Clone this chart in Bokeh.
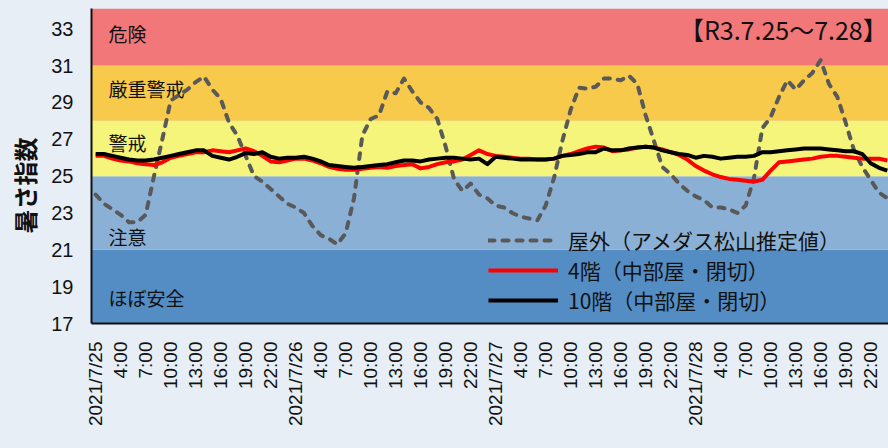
import math
from bokeh.plotting import figure
from bokeh.models import (Range1d, FixedTicker, BoxAnnotation, Legend, LegendItem, Title)
from bokeh.core.properties import value
from bokeh.embed import file_html
from bokeh.resources import INLINE

# ---------------- data ----------------
days = ["2021/7/25", "2021/7/26", "2021/7/27", "2021/7/28"]
hour_labels = ["4:00", "7:00", "10:00", "13:00", "16:00", "19:00", "22:00"]
tick_labels = []
for d in days:
    tick_labels.append(d)
    tick_labels.extend(hour_labels)

outdoor = [
    24.0, 23.5, 23.2, 22.9, 22.5, 22.5, 22.9, 25.0, 27.0, 29.1, 29.4, 29.7,
    30.1, 30.4, 29.7, 29.2, 27.9, 27.2, 26.1, 25.0, 24.7, 24.3, 23.9, 23.5,
    23.3, 23.0, 22.3, 21.8, 21.6, 21.3, 21.9, 23.8, 27.2, 28.1, 28.3, 29.6,
    29.5, 30.3, 29.6, 29.0, 28.7, 28.1, 26.6, 24.85, 24.2, 24.6, 24.0, 23.8,
    23.4, 23.3, 23.0, 22.8, 22.7, 22.6, 23.4, 24.9, 26.9, 28.6, 29.8, 29.75,
    29.85, 30.3, 30.3, 30.2, 30.45, 30.0, 28.3, 26.9, 25.5, 25.1, 24.6, 24.2,
    23.9, 23.7, 23.3, 23.3, 23.2, 23.0, 23.4, 24.9, 27.6, 28.2, 29.3, 30.2,
    29.7, 30.2, 30.6, 31.3, 30.0, 29.3, 27.9, 26.4, 25.5, 24.8, 24.1, 23.8,
]

floor4 = [
    26.1, 26.1, 25.95, 25.85, 25.8, 25.7, 25.65, 25.6, 25.75, 26.0, 26.1, 26.2,
    26.3, 26.3, 26.4, 26.35, 26.3, 26.4, 26.5, 26.35, 26.1, 25.8, 25.75, 25.85,
    25.95, 25.95, 25.85, 25.7, 25.5, 25.4, 25.35, 25.35, 25.4, 25.45, 25.5, 25.45,
    25.55, 25.6, 25.65, 25.42, 25.5, 25.65, 25.75, 25.8, 25.9, 26.15, 26.4, 26.2,
    26.1, 26.05, 26.0, 25.95, 25.95, 25.9, 25.9, 25.95, 26.1, 26.2, 26.35, 26.5,
    26.6, 26.55, 26.35, 26.4, 26.45, 26.55, 26.6, 26.55, 26.45, 26.3, 26.15, 25.9,
    25.55, 25.3, 25.1, 24.95, 24.85, 24.8, 24.75, 24.7, 24.8, 25.3, 25.75, 25.8,
    25.85, 25.9, 25.95, 26.05, 26.1, 26.1, 26.05, 26.0, 25.95, 25.95, 25.95, 25.85,
]

floor10 = [
    26.2, 26.2, 26.1, 26.0, 25.9, 25.85, 25.85, 25.9, 26.0, 26.1, 26.2, 26.3,
    26.4, 26.4, 26.1, 26.0, 25.9, 26.05, 26.25, 26.2, 26.3, 26.05, 25.95, 26.0,
    26.0, 26.05, 25.95, 25.8, 25.6, 25.55, 25.5, 25.45, 25.5, 25.55, 25.6, 25.65,
    25.75, 25.85, 25.85, 25.8, 25.9, 25.95, 26.0, 26.0, 25.95, 25.9, 25.95, 25.65,
    26.05, 26.0, 25.95, 25.9, 25.9, 25.9, 25.9, 25.95, 26.1, 26.15, 26.2, 26.3,
    26.3, 26.5, 26.4, 26.4, 26.5, 26.55, 26.6, 26.55, 26.4, 26.3, 26.2, 26.15,
    26.0, 26.1, 26.05, 25.95, 26.0, 26.05, 26.05, 26.1, 26.3, 26.3, 26.35, 26.4,
    26.45, 26.5, 26.5, 26.5, 26.45, 26.4, 26.35, 26.35, 26.2, 25.7, 25.45, 25.3,
]

band_names = ["ほぼ安全", "注意", "警戒", "厳重警戒", "危険"]
band_bottoms = [17, 21, 25, 28, 31]
band_tops = [21, 25, 28, 31, 34.1]
band_colors = ["#548DC3", "#8BB0D6", "#F4F57A", "#F7CA4B", "#F27779"]
band_label_y = [18.4, 21.75, 26.8, 29.75, 32.75]

y_ticks = [17, 19, 21, 23, 25, 27, 29, 31, 33]
title_text = "【R3.7.25～7.28】"
y_title = "暑さ指数"
series_names = ["屋外（アメダス松山推定値）", "4階（中部屋・閉切）", "10階（中部屋・閉切）"]

# ---------------- figure ----------------
BG = "#E7EEF6"
JP = "Noto Sans CJK JP"
x = list(range(len(outdoor)))

p = figure(width=888, height=448, output_backend="svg", toolbar_location=None,
           x_range=Range1d(-0.5, 95.14), y_range=Range1d(17, 34.1))
p.min_border_left = 91
p.min_border_right = 0
p.min_border_top = 8
p.min_border_bottom = 125
p.background_fill_color = BG
p.border_fill_color = BG
p.outline_line_color = None
p.grid.visible = False

for b, t, c in zip(band_bottoms, band_tops, band_colors):
    p.add_layout(BoxAnnotation(bottom=b, top=t, fill_color=c, fill_alpha=1.0,
                               line_color=None, level="underlay"))

p.text(x=[1.55] * len(band_names), y=band_label_y, text=band_names,
       text_font=value(JP), text_font_size="19px", text_color="#111111",
       text_align="left", text_baseline="middle")

p.text(x=[95.05], y=[33.0], text=[title_text], text_font=value(JP),
       text_font_size="25px", text_color="#111111", text_align="right",
       text_baseline="middle")

r_out = p.line(x, outdoor, line_color="#595959", line_width=4, line_dash="6 8",
               line_cap="round", line_join="round")
r_4 = p.line(x, floor4, line_color="#FF0000", line_width=4, line_join="round")
r_10 = p.line(x, floor10, line_color="#000000", line_width=4, line_join="round")

legend = Legend(items=[LegendItem(label=series_names[0], renderers=[r_out]),
                       LegendItem(label=series_names[1], renderers=[r_4]),
                       LegendItem(label=series_names[2], renderers=[r_10])],
                location=(397, 8), orientation="vertical")
legend.background_fill_alpha = 0
legend.border_line_color = None
legend.padding = 0
legend.margin = 0
legend.spacing = 0
legend.label_height = 30
legend.glyph_height = 30
legend.glyph_width = 70
legend.label_standoff = 10
legend.label_text_font = JP
legend.label_text_font_size = "21px"
legend.label_text_color = "#111111"
p.add_layout(legend, "center")

# axes
p.xaxis.ticker = FixedTicker(ticks=list(range(0, len(outdoor), 3)))
p.xaxis.major_label_overrides = {i * 3: lab for i, lab in enumerate(tick_labels)}
p.xaxis.major_label_orientation = math.pi / 2
p.yaxis.ticker = FixedTicker(ticks=y_ticks)
for ax in (p.xaxis, p.yaxis):
    ax.major_tick_line_color = None
    ax.minor_tick_line_color = None
    ax.major_tick_out = 0
    ax.major_tick_in = 0
    ax.axis_line_color = "#111111"
    ax.axis_line_width = 2
    ax.major_label_text_font = "Liberation Sans"
    ax.major_label_text_color = "#111111"
p.xaxis.major_label_text_font_size = "19px"
p.yaxis.major_label_text_font_size = "20px"
p.xaxis.major_label_standoff = 18
p.yaxis.major_label_standoff = 18

p.add_layout(Title(text=y_title, align="left", offset=90, standoff=10,
                   vertical_align="top", text_font=JP,
                   text_font_size="24px", text_font_style="bold",
                   text_color="#111111"), "left")

html = file_html(p, INLINE)
html = html.replace("<body>", '<body style="background:%s">' % BG)
open("out.html", "w").write(html)
